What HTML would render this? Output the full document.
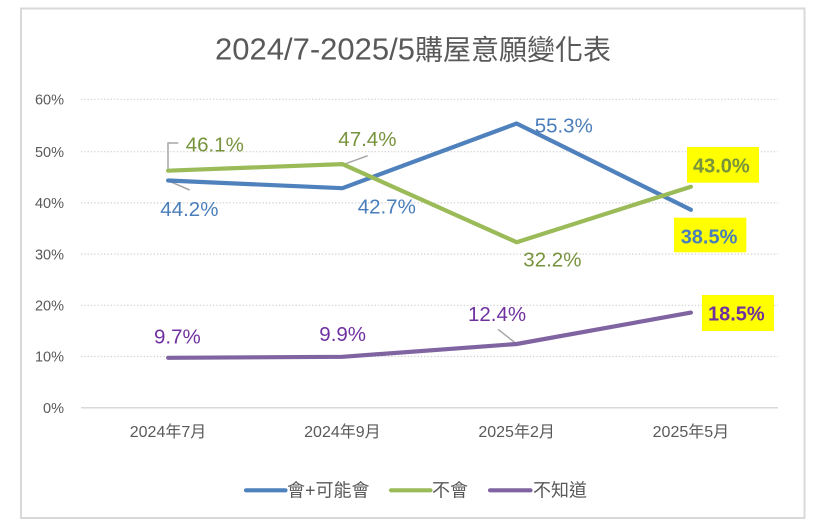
<!DOCTYPE html>
<html><head><meta charset="utf-8"><style>
html,body{margin:0;padding:0;background:#fff;}
svg{display:block;}
text{font-family:"Liberation Sans","Noto Sans CJK TC",sans-serif;}
</style></head><body>
<svg width="826" height="532" viewBox="0 0 826 532" xmlns="http://www.w3.org/2000/svg">
<rect x="0" y="0" width="826" height="532" fill="#fff"/>
<rect x="21" y="8.5" width="783.5" height="509.5" fill="#fff" stroke="#d9d9d9" stroke-width="2"/>
<!-- title -->
<text x="413" y="59.3" text-anchor="middle" fill="#595959"><tspan font-size="31">2024/7-2025/5</tspan><tspan font-size="28">購屋意願變化表</tspan></text>
<!-- gridlines -->
<g stroke="#d0d0d0" stroke-width="1.2" stroke-dasharray="1.3,2">
<line x1="81" y1="99.3" x2="778" y2="99.3"/>
<line x1="81" y1="151.7" x2="778" y2="151.7"/>
<line x1="81" y1="202.9" x2="778" y2="202.9"/>
<line x1="81" y1="254.1" x2="778" y2="254.1"/>
<line x1="81" y1="305.3" x2="778" y2="305.3"/>
<line x1="81" y1="356.5" x2="778" y2="356.5"/>
</g>
<line x1="81" y1="407.7" x2="778" y2="407.7" stroke="#d9d9d9" stroke-width="1.5"/>
<!-- y labels -->
<g font-size="14.5" fill="#595959" text-anchor="end">
<text x="64" y="104.5">60%</text>
<text x="64" y="156.9">50%</text>
<text x="64" y="208.1">40%</text>
<text x="64" y="259.3">30%</text>
<text x="64" y="310.5">20%</text>
<text x="64" y="361.7">10%</text>
<text x="64" y="412.9">0%</text>
</g>
<!-- x labels -->
<g font-size="16" fill="#595959" text-anchor="middle">
<text x="168" y="437">2024年7月</text>
<text x="342.4" y="437">2024年9月</text>
<text x="516.6" y="437">2025年2月</text>
<text x="690.9" y="437">2025年5月</text>
</g>
<!-- leader lines -->
<g stroke="#a6a6a6" stroke-width="1.5" fill="none">
<polyline points="168,170 168,143 178.3,143"/>
<line x1="168" y1="180.7" x2="189.7" y2="190"/>
<line x1="343" y1="164.7" x2="367.7" y2="155.7"/>
<line x1="498" y1="329.3" x2="516.3" y2="343.7"/>
</g>
<!-- series -->
<g fill="none" stroke-width="4.2" stroke-linecap="round" stroke-linejoin="round">
<polyline stroke="#4f81bd" points="168.1,180.5 342.4,188.2 516.6,123.5 690.9,209.8"/>
<polyline stroke="#9bbb59" points="168.1,170.7 342.4,164.1 516.6,242.2 690.9,186.7"/>
<polyline stroke="#8064a2" points="168.1,357.8 342.4,356.8 516.6,344.0 690.9,312.6"/>
</g>
<!-- yellow boxes -->
<rect x="687" y="147" width="72" height="35.7" fill="#ffff00"/>
<rect x="674" y="217.7" width="72.3" height="34.6" fill="#ffff00"/>
<rect x="702" y="295" width="72" height="36" fill="#ffff00"/>
<!-- data labels -->
<g font-size="20.5">
<text x="185.7" y="151.7" fill="#77933c">46.1%</text>
<text x="338.3" y="146" fill="#77933c">47.4%</text>
<text x="523.3" y="266.7" fill="#77933c">32.2%</text>
<text x="160.3" y="216" fill="#4a7ebb">44.2%</text>
<text x="357.7" y="213.3" fill="#4a7ebb">42.7%</text>
<text x="534.7" y="132.7" fill="#4a7ebb">55.3%</text>
<text x="154" y="343.7" fill="#7030a0">9.7%</text>
<text x="319.3" y="341" fill="#7030a0">9.9%</text>
<text x="468" y="321" fill="#7030a0">12.4%</text>
</g>
<g font-size="20" font-weight="bold">
<text x="693" y="172.3" fill="#77933c">43.0%</text>
<text x="680.7" y="243.3" fill="#4a7ebb">38.5%</text>
<text x="708" y="320.3" fill="#7030a0">18.5%</text>
</g>
<!-- legend -->
<g stroke-width="4.2" stroke-linecap="round">
<line x1="246" y1="490.3" x2="285.5" y2="490.3" stroke="#4f81bd"/>
<line x1="391" y1="490.3" x2="430.5" y2="490.3" stroke="#9bbb59"/>
<line x1="490" y1="490.3" x2="530.5" y2="490.3" stroke="#8064a2"/>
</g>
<g font-size="18" fill="#595959">
<text x="287" y="496.5">會+可能會</text>
<text x="432" y="496.5">不會</text>
<text x="533" y="496.5">不知道</text>
</g>
</svg>
</body></html>
